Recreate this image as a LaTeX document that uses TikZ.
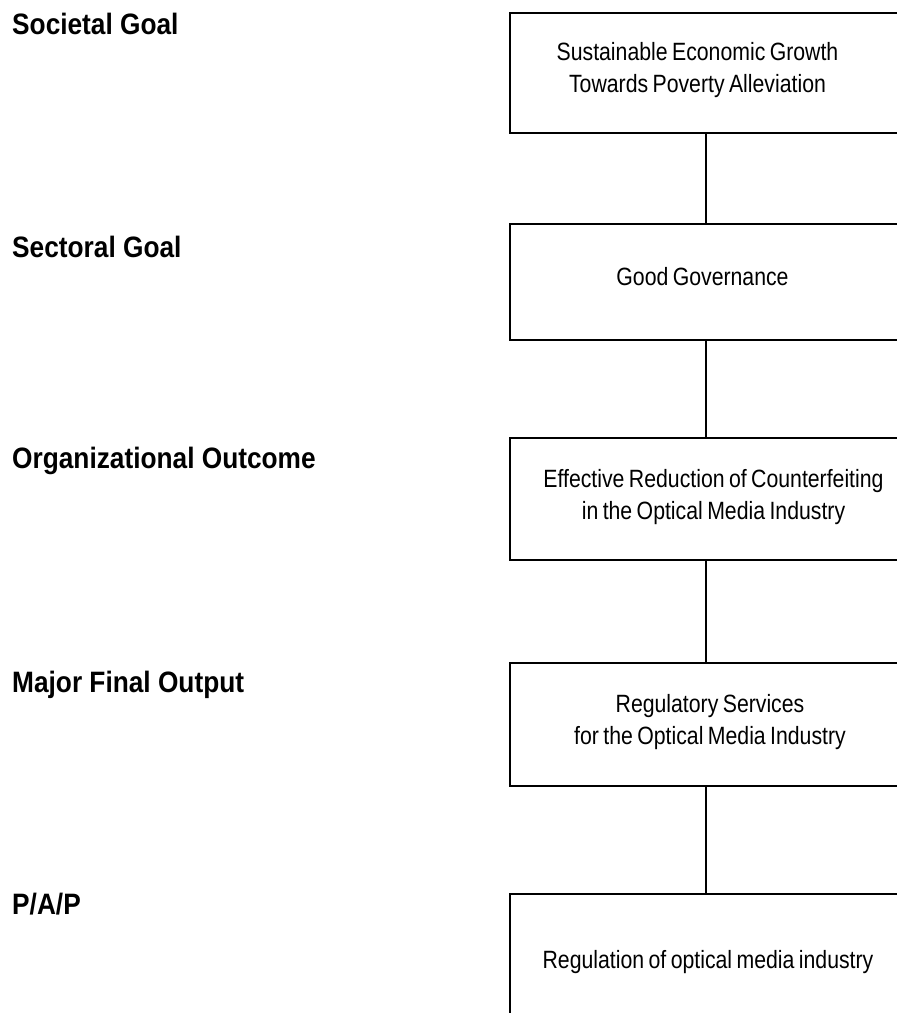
\documentclass[tikz,border=0pt]{standalone}
\usepackage{fontspec}
\setmainfont{Liberation Sans}[FakeStretch=0.85,WordSpace=0.75]
\newfontfamily\boldlbl{Liberation Sans}[FakeStretch=0.89]
\begin{document}
\begin{tikzpicture}[x=1pt,y=-1pt,
  levellabel/.style={anchor=base west,inner sep=0pt,font=\boldlbl\bfseries\fontsize{29.5}{34}\selectfont},
  box/.style={draw,line width=2.6pt,minimum width=392pt,inner sep=0pt},
  boxtext/.style={inner sep=0pt,align=center,font=\fontsize{25}{32}\selectfont},
  link/.style={line width=2.6pt}]
\useasboundingbox (0,0) rectangle (897,1013);
% level labels
\node[levellabel] (l1) at (12,34) {Societal Goal};
\node[levellabel] (l2) at (12,257) {Sectoral Goal};
\node[levellabel] (l3) at (12,468) {Organizational Outcome};
\node[levellabel] (l4) at (12,692) {Major Final Output};
\node[levellabel] (l5) at (12,914) {P/A/P};
% boxes
\node[box,minimum height=120pt] (b1) at (706,73) {};
\node[box,minimum height=116pt] (b2) at (706,282) {};
\node[box,minimum height=122pt] (b3) at (706,499) {};
\node[box,minimum height=123pt] (b4) at (706,724.5) {};
\node[box,minimum height=146pt] (b5) at (706,967) {};
% box texts
\node[boxtext] (t1) at (697.5,69.6) {Sustainable Economic Growth\\Towards Poverty Alleviation};
\node[boxtext,anchor=base] (t2) at (702.5,285) {Good Governance};
\node[boxtext] (t3) at (713.5,496.6) {Effective Reduction of Counterfeiting\\in the Optical Media Industry};
\node[boxtext] (t4) at (710,721.6) {Regulatory Services\\for the Optical Media Industry};
\node[boxtext,anchor=base] (t5) at (708,968) {Regulation of optical media industry};
% connectors
\draw[link] (b1.south) -- (b2.north);
\draw[link] (b2.south) -- (b3.north);
\draw[link] (b3.south) -- (b4.north);
\draw[link] (b4.south) -- (b5.north);
\end{tikzpicture}
\end{document}
